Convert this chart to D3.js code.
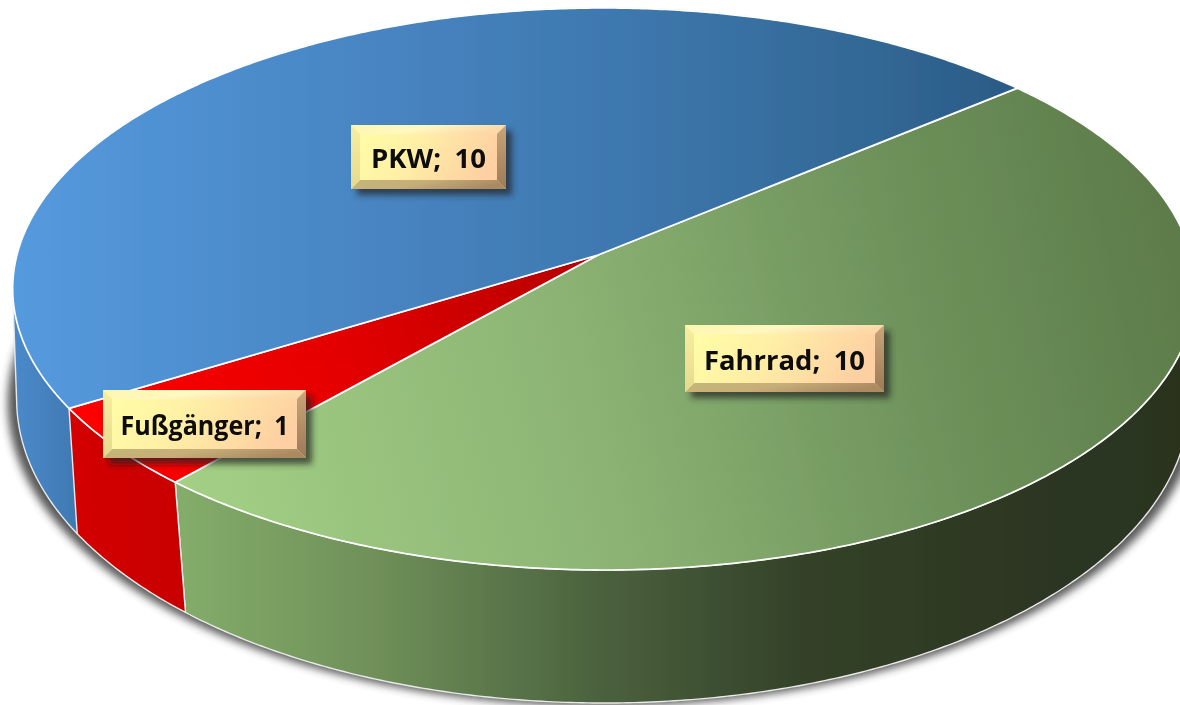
<!DOCTYPE html>
<html><head><meta charset="utf-8">
<script src="https://cdn.jsdelivr.net/npm/d3@7"></script>
<style>html,body{margin:0;padding:0;background:#fff;overflow:hidden}svg{display:block}</style>
</head><body><svg id="c" width="1180" height="705"></svg>
<script>
// data
const categories = ["Fahrrad", "Fußgänger", "PKW"];
const values = [10, 1, 10];
// layout of the labels (box left, top, width, height, text width)
const labelBoxes = {
  "PKW":       {x:351, y:125, w:155, h:64, tw:115},
  "Fahrrad":   {x:685, y:325, w:199, h:67, tw:161},
  "Fußgänger": {x:103, y:390, w:203, h:68, tw:168}
};
const W = 1180, H = 705;
const cx = 598, cy = 255, R = 587, k = 276.9, perspY = 0.1209, perspX = 0.0102;
const startDeg = 49.85;
const svg = d3.select("#c");
const defs = svg.append("defs");

function grad(id, x1, y1, x2, y2, stops) {
  const g = defs.append("linearGradient").attr("id", id)
    .attr("gradientUnits", "userSpaceOnUse")
    .attr("x1", x1).attr("y1", y1).attr("x2", x2).attr("y2", y2);
  stops.forEach(s => g.append("stop").attr("offset", s[0]).attr("stop-color", s[1]));
}
grad("topFahrrad", 175, 530, 1195, 290, [[0,"#a4d186"],[0.42,"#8bb273"],[0.72,"#6f935c"],[1,"#5c7b49"]]);
grad("topPKW", 13, 150, 1020, 150, [[0,"#559ade"],[0.3,"#4a88c6"],[0.6,"#3e78af"],[0.85,"#326895"],[1,"#2b5a86"]]);
grad("topFuss", 70, 420, 595, 255, [[0,"#ff0000"],[0.5,"#e40000"],[1,"#b40000"]]);
grad("sideFahrrad", 175, 0, 1180, 0, [[0,"#84ad6a"],[0.2,"#6f9059"],[0.42,"#4b623e"],[0.62,"#344229"],[0.82,"#2d3722"],[1,"#2a331f"]]);
grad("sidePKW", 13, 0, 80, 0, [[0,"#4b8acb"],[1,"#3f78b0"]]);
grad("sideFuss", 68, 0, 183, 0, [[0,"#d40000"],[1,"#c80000"]]);
const topFill = {"Fahrrad":"url(#topFahrrad)","PKW":"url(#topPKW)","Fußgänger":"url(#topFuss)"};
const sideFill = {"Fahrrad":"url(#sideFahrrad)","PKW":"url(#sidePKW)","Fußgänger":"url(#sideFuss)"};

defs.append("filter").attr("id","ds").attr("x","-10%").attr("y","-10%").attr("width","120%").attr("height","120%")
  .append("feGaussianBlur").attr("stdDeviation",4);
const ls = defs.append("filter").attr("id","ls").attr("x","-15%").attr("y","-25%").attr("width","135%").attr("height","160%");
ls.append("feGaussianBlur").attr("stdDeviation",3);
defs.append("filter").attr("id","soft").attr("filterUnits","userSpaceOnUse")
  .attr("x",-10).attr("y",-10).attr("width",W+20).attr("height",H+20)
  .append("feGaussianBlur").attr("stdDeviation",0.45);
defs.append("filter").attr("id","bevelSoft")
  .attr("x","-10%").attr("y","-10%").attr("width","120%").attr("height","120%")
  .append("feGaussianBlur").attr("stdDeviation",1);

// projections of the disc: top face with perspective, bottom rim as a second ellipse
function topP(a) {
  const x = Math.sin(a), y = -Math.cos(a), w = 1 - perspY * y - perspX * x;
  return [cx + R * x / w, cy + k * y / w];
}
const skew = 1 * Math.PI / 180;
function botP(a, ax = 586, by = 303, xb = 603, yb = 400) {
  const p = topP(a - skew);
  return [xb + ax / 591 * (p[0] - 604), yb + by / 281 * (p[1] - 289)];
}
const pie = d3.pie().sort(null).value(d => d.value)
  .startAngle(startDeg * Math.PI / 180)
  .endAngle(startDeg * Math.PI / 180 + 2 * Math.PI);
const arcs = pie(categories.map((c, i) => ({cat: c, value: values[i]})));
const line = d3.line();
const angles = d => {
  const n = Math.max(2, Math.ceil((d.endAngle - d.startAngle) * 180 / Math.PI * 2));
  return d3.range(n + 1).map(i => d.startAngle + (d.endAngle - d.startAngle) * i / n);
};
const root = svg.append("g").attr("filter", "url(#soft)");
root.append("rect").attr("x",-10).attr("y",-10).attr("width",W+20).attr("height",H+20).attr("fill","#fff");

// shadow under the body
const all = d3.range(0, 721).map(i => i / 720 * 2 * Math.PI);
root.append("path")
  .attr("d", line(all.map(a => botP(a, 595, 303, 603, 403))) + "Z")
  .attr("fill", "#3a3a3a").attr("opacity", 0.85).attr("filter", "url(#ds)");

// side walls: the outer outline is the hull of both rims; the widest slice goes first
const wallOrder = arcs.slice().sort((a, b) => (b.data.cat === "PKW") - (a.data.cat === "PKW"));
root.append("g").selectAll("path").data(wallOrder).join("path")
  .attr("d", d => { const A = angles(d);
    const pts = A.map(topP).concat(A.slice().reverse().map(a => botP(a)));
    return line(d.data.cat === "PKW" ? d3.polygonHull(pts) : pts) + "Z"; })
  .attr("fill", d => sideFill[d.data.cat])
  .attr("stroke", "#e9e9e9").attr("stroke-width", 1.4).attr("stroke-linejoin", "round");

// top faces
root.append("g").selectAll("path").data(arcs).join("path")
  .attr("d", d => line([[cx, cy]].concat(angles(d).map(topP))) + "Z")
  .attr("fill", d => topFill[d.data.cat])
  .attr("stroke", "#fff").attr("stroke-width", 1.7).attr("stroke-linejoin", "round");

// labels
const lg = (id, stops, vert) => {
  const g = defs.append("linearGradient").attr("id", id)
    .attr("x1",0).attr("y1",0).attr("x2",vert?0:1).attr("y2",vert?1:0.25);
  stops.forEach(s => g.append("stop").attr("offset", s[0]).attr("stop-color", s[1]));
};
lg("face", [[0,"#ffffa6"],[0.45,"#fff0a6"],[1,"#fdcfa2"]]);
lg("bTop", [[0,"#fff6ae"],[0.5,"#fff8c0"],[1,"#fdd8a8"]]);
lg("bBot", [[0,"#c5b778"],[0.5,"#c6ae78"],[1,"#ab8a62"]]);
lg("bLeft", [[0,"#f8eea0"],[1,"#e5d98e"]], true);
lg("bRight", [[0,"#c9a578"],[1,"#9c7a55"]], true);

const lab = root.append("g").selectAll("g").data(arcs).join("g")
  .attr("transform", d => { const b = labelBoxes[d.data.cat]; return `translate(${b.x},${b.y})`; });
lab.append("rect").attr("x",6).attr("y",6)
  .attr("width", d => labelBoxes[d.data.cat].w).attr("height", d => labelBoxes[d.data.cat].h)
  .attr("fill","#222").attr("opacity",0.7).attr("filter","url(#ls)");
lab.append("rect")
  .attr("width", d => labelBoxes[d.data.cat].w).attr("height", d => labelBoxes[d.data.cat].h)
  .attr("fill","url(#face)");
const bev = 9;
const bevels = [
  ["url(#bTop)",  (w,h)=>[[0,0],[w,0],[w-bev,bev],[bev,bev]]],
  ["url(#bBot)",  (w,h)=>[[0,h],[w,h],[w-bev,h-bev],[bev,h-bev]]],
  ["url(#bLeft)", (w,h)=>[[0,0],[bev,bev],[bev,h-bev],[0,h]]],
  ["url(#bRight)",(w,h)=>[[w,0],[w-bev,bev],[w-bev,h-bev],[w,h]]]
];
bevels.forEach(([f, pts]) => {
  lab.append("path").attr("fill", f)
    .attr("d", d => { const b = labelBoxes[d.data.cat]; return line(pts(b.w, b.h)) + "Z"; });
});
lab.append("text")
  .attr("x", d => labelBoxes[d.data.cat].w / 2)
  .attr("y", d => labelBoxes[d.data.cat].h / 2 + 11)
  .attr("text-anchor", "middle")
  .attr("font-family", "'Open Sans', 'DejaVu Sans', sans-serif")
  .attr("font-weight", 700).attr("font-size", 26).attr("fill", "#0a0a0a")
  .attr("word-spacing", 6)
  .attr("textLength", d => labelBoxes[d.data.cat].tw)
  .attr("lengthAdjust", "spacingAndGlyphs")
  .text(d => `${d.data.cat}; ${d.data.value}`);
</script></body></html>
